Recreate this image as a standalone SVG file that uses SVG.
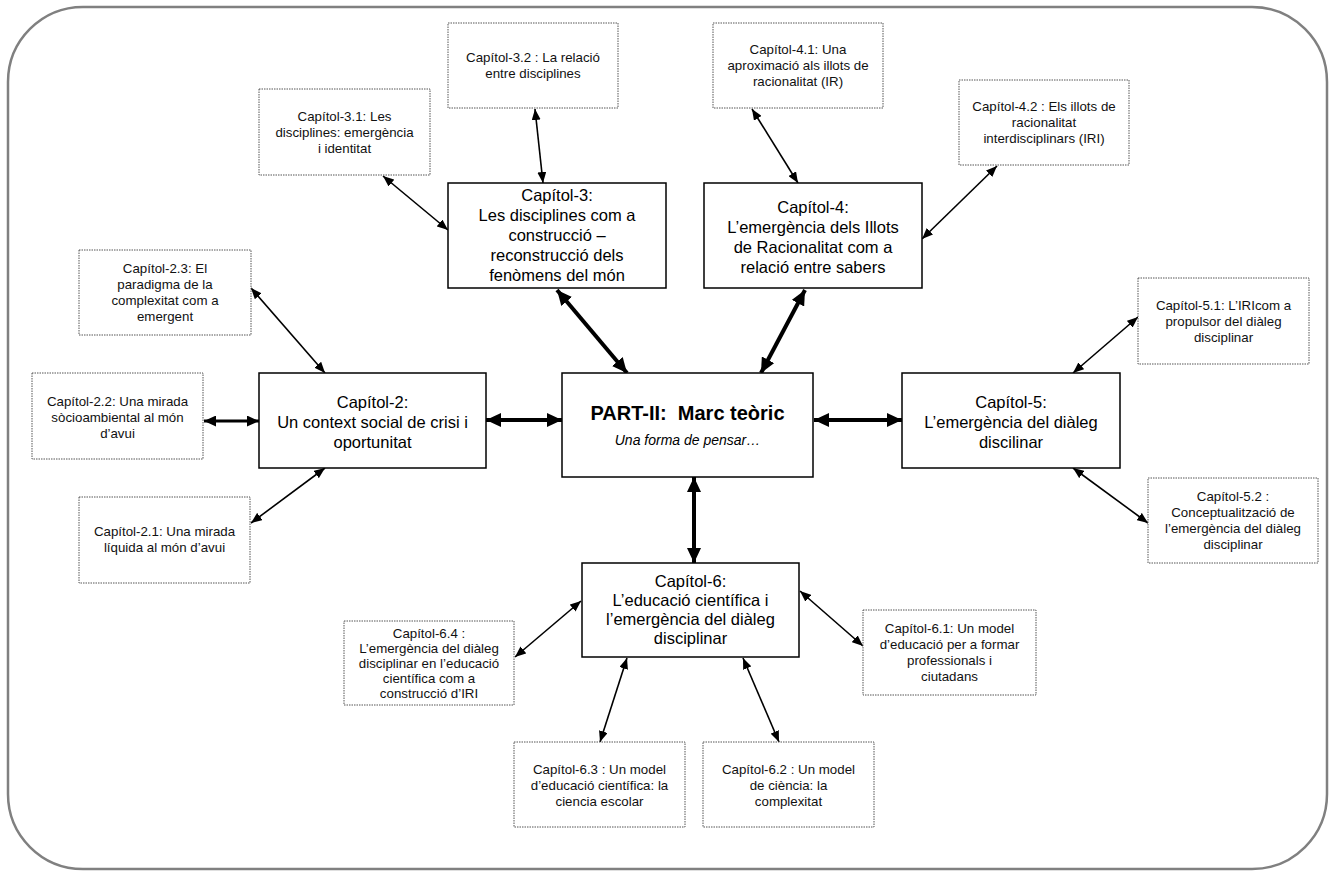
<svg xmlns="http://www.w3.org/2000/svg" width="1334" height="871" viewBox="0 0 1334 871">
<style>
  .frame{fill:#fff;stroke:#808080;stroke-width:2.5}
  .main{fill:#fff;stroke:#000;stroke-width:1.5}
  .sub{fill:#fff;stroke:#555;stroke-width:1;stroke-dasharray:1.5 1}
  .tm{font-family:"Liberation Sans",Arial,sans-serif;font-size:16.5px;fill:#000;text-anchor:middle}
  .ts{font-family:"Liberation Sans",Arial,sans-serif;font-size:13.3px;fill:#111;text-anchor:middle}
  .tb{font-family:"Liberation Sans",Arial,sans-serif;font-size:20px;font-weight:bold;fill:#000;text-anchor:middle;white-space:pre}
  .ti{font-family:"Liberation Sans",Arial,sans-serif;font-size:14px;font-style:italic;fill:#000;text-anchor:middle}
  .thin{stroke:#000;stroke-width:1.6;fill:none;marker-start:url(#ah);marker-end:url(#ah)}
  .med{stroke:#000;stroke-width:2.8;fill:none;marker-start:url(#am);marker-end:url(#am)}
  .thick{stroke:#000;stroke-width:4;fill:none;marker-start:url(#at);marker-end:url(#at)}
</style>
<defs>
  <marker id="ah" markerUnits="userSpaceOnUse" markerWidth="12" markerHeight="9" refX="11" refY="4.5" orient="auto-start-reverse" viewBox="0 0 12 9"><path d="M0,0 L11,4.5 L0,9 z" fill="#000"/></marker>
  <marker id="am" markerUnits="userSpaceOnUse" markerWidth="13" markerHeight="11" refX="12" refY="5.5" orient="auto-start-reverse" viewBox="0 0 13 11"><path d="M0,0 L12,5.5 L0,11 z" fill="#000"/></marker>
  <marker id="at" markerUnits="userSpaceOnUse" markerWidth="16" markerHeight="14" refX="15" refY="7" orient="auto-start-reverse" viewBox="0 0 16 14"><path d="M0,0 L15,7 L0,14 z" fill="#000"/></marker>
</defs>

<rect class="frame" x="8" y="7" width="1319" height="862" rx="75" ry="75"/>

<g id="connectors">
  <line class="thin" x1="535" y1="109" x2="543" y2="183"/>
  <line class="thin" x1="752" y1="109" x2="798" y2="183"/>
  <line class="thin" x1="383" y1="176" x2="448" y2="230"/>
  <line class="thin" x1="997" y1="166" x2="922" y2="239"/>
  <line class="thin" x1="251" y1="288" x2="325" y2="373"/>
  <line class="med" x1="204" y1="421" x2="259" y2="421"/>
  <line class="thin" x1="251" y1="523" x2="325" y2="468"/>
  <line class="thin" x1="1138" y1="317" x2="1073" y2="373"/>
  <line class="thin" x1="1073" y1="468" x2="1148" y2="523"/>
  <line class="thin" x1="515" y1="657" x2="581" y2="601"/>
  <line class="thin" x1="800" y1="591" x2="863" y2="646"/>
  <line class="thin" x1="600" y1="742" x2="627" y2="658"/>
  <line class="thin" x1="779" y1="742" x2="743" y2="658"/>
  <line class="thick" x1="557" y1="290" x2="627" y2="373"/>
  <line class="thick" x1="805" y1="290" x2="761" y2="373"/>
  <line class="thick" x1="486" y1="420" x2="562" y2="420"/>
  <line class="thick" x1="814" y1="420" x2="902" y2="420"/>
  <line class="thick" x1="694" y1="477" x2="694" y2="563"/>
</g>

<g id="part2">
  <rect class="main" x="562" y="373" width="251" height="104"/>
  <text class="tb" x="687.5" y="420">PART-II:  Marc teòric</text>
  <text class="ti" x="687.5" y="445">Una forma de pensar…</text>
</g>

<g id="cap3">
  <rect class="main" x="448" y="183" width="218" height="105"/>
  <text class="tm"><tspan x="557" y="201.3">Capítol-3:</tspan><tspan x="557" y="221.3">Les disciplines com a</tspan><tspan x="557" y="241.3">construcció –</tspan><tspan x="557" y="261.3">reconstrucció dels</tspan><tspan x="557" y="281.3">fenòmens del món</tspan></text>
</g>

<g id="cap4">
  <rect class="main" x="704" y="183" width="218" height="105"/>
  <text class="tm"><tspan x="813" y="212.8">Capítol-4:</tspan><tspan x="813" y="232.8">L’emergència dels Illots</tspan><tspan x="813" y="252.8">de Racionalitat com a</tspan><tspan x="813" y="272.8">relació entre sabers</tspan></text>
</g>

<g id="cap2">
  <rect class="main" x="259" y="373" width="227" height="95"/>
  <text class="tm"><tspan x="372.5" y="407.8">Capítol-2:</tspan><tspan x="372.5" y="427.8">Un context social de crisi i</tspan><tspan x="372.5" y="447.8">oportunitat</tspan></text>
</g>

<g id="cap5">
  <rect class="main" x="902" y="373" width="218" height="95"/>
  <text class="tm"><tspan x="1011" y="407.8">Capítol-5:</tspan><tspan x="1011" y="427.8">L’emergència del diàleg</tspan><tspan x="1011" y="447.8">discilinar</tspan></text>
</g>

<g id="cap6">
  <rect class="main" x="582" y="563" width="217" height="94"/>
  <text class="tm"><tspan x="690.5" y="587.3">Capítol-6:</tspan><tspan x="690.5" y="606.3">L’educació científica i</tspan><tspan x="690.5" y="625.3">l’emergència del diàleg</tspan><tspan x="690.5" y="644.3">disciplinar</tspan></text>
</g>

<g id="cap3-2">
  <rect class="sub" x="448" y="23" width="170" height="85"/>
  <text class="ts"><tspan x="533" y="62.2">Capítol-3.2 : La relació</tspan><tspan x="533" y="78.2">entre disciplines</tspan></text>
</g>

<g id="cap4-1">
  <rect class="sub" x="713" y="23" width="170" height="85"/>
  <text class="ts"><tspan x="798" y="54.2">Capítol-4.1: Una</tspan><tspan x="798" y="70.2">aproximació als illots de</tspan><tspan x="798" y="86.2">racionalitat (IR)</tspan></text>
</g>

<g id="cap3-1">
  <rect class="sub" x="259" y="89" width="171" height="86"/>
  <text class="ts"><tspan x="344.5" y="120.7">Capítol-3.1: Les</tspan><tspan x="344.5" y="136.7">disciplines: emergència</tspan><tspan x="344.5" y="152.7">i identitat</tspan></text>
</g>

<g id="cap4-2">
  <rect class="sub" x="959" y="80" width="170" height="85"/>
  <text class="ts"><tspan x="1044" y="111.2">Capítol-4.2 : Els illots de</tspan><tspan x="1044" y="127.2">racionalitat</tspan><tspan x="1044" y="143.2">interdisciplinars (IRI)</tspan></text>
</g>

<g id="cap2-3">
  <rect class="sub" x="79" y="250" width="172" height="85"/>
  <text class="ts"><tspan x="165" y="273.2">Capítol-2.3: El</tspan><tspan x="165" y="289.2">paradigma de la</tspan><tspan x="165" y="305.2">complexitat com a</tspan><tspan x="165" y="321.2">emergent</tspan></text>
</g>

<g id="cap2-2">
  <rect class="sub" x="32" y="373" width="171" height="86"/>
  <text class="ts"><tspan x="117.5" y="405.7">Capítol-2.2: Una mirada</tspan><tspan x="117.5" y="421.7">sòcioambiental al món</tspan><tspan x="117.5" y="437.7">d’avui</tspan></text>
</g>

<g id="cap2-1">
  <rect class="sub" x="79" y="497" width="171" height="86"/>
  <text class="ts"><tspan x="164.5" y="536.2">Capítol-2.1: Una mirada</tspan><tspan x="164.5" y="552.2">líquida al món d’avui</tspan></text>
</g>

<g id="cap5-1">
  <rect class="sub" x="1138" y="278" width="171" height="86"/>
  <text class="ts"><tspan x="1223.5" y="309.7">Capítol-5.1: L’IRIcom a</tspan><tspan x="1223.5" y="325.7">propulsor del diàleg</tspan><tspan x="1223.5" y="341.7">disciplinar</tspan></text>
</g>

<g id="cap5-2">
  <rect class="sub" x="1148" y="478" width="170" height="85"/>
  <text class="ts"><tspan x="1233" y="501.2">Capítol-5.2 :</tspan><tspan x="1233" y="517.2">Conceptualització de</tspan><tspan x="1233" y="533.2">l’emergència del diàleg</tspan><tspan x="1233" y="549.2">disciplinar</tspan></text>
</g>

<g id="cap6-4">
  <rect class="sub" x="344" y="621" width="170" height="84"/>
  <text class="ts"><tspan x="429" y="637.7">Capítol-6.4 :</tspan><tspan x="429" y="652.7">L’emergència del diàleg</tspan><tspan x="429" y="667.7">disciplinar en l’educació</tspan><tspan x="429" y="682.7">científica com a</tspan><tspan x="429" y="697.7">construcció d’IRI</tspan></text>
</g>

<g id="cap6-3">
  <rect class="sub" x="514" y="742" width="171" height="85"/>
  <text class="ts"><tspan x="599.5" y="774.2">Capítol-6.3 : Un model</tspan><tspan x="599.5" y="790.2">d’educació científica: la</tspan><tspan x="599.5" y="806.2">ciencia escolar</tspan></text>
</g>

<g id="cap6-2">
  <rect class="sub" x="703" y="742" width="171" height="85"/>
  <text class="ts"><tspan x="788.5" y="774.2">Capítol-6.2 : Un model</tspan><tspan x="788.5" y="790.2">de ciència: la</tspan><tspan x="788.5" y="806.2">complexitat</tspan></text>
</g>

<g id="cap6-1">
  <rect class="sub" x="863" y="610" width="173" height="85"/>
  <text class="ts"><tspan x="949.5" y="633.2">Capítol-6.1: Un model</tspan><tspan x="949.5" y="649.2">d’educació per a formar</tspan><tspan x="949.5" y="665.2">professionals i</tspan><tspan x="949.5" y="681.2">ciutadans</tspan></text>
</g>
</svg>
